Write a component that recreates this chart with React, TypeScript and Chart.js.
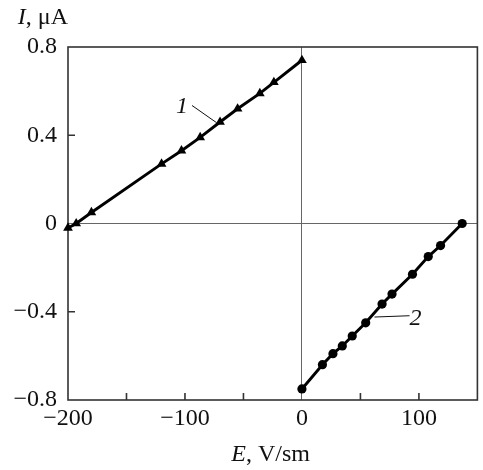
import React, { useEffect, useRef } from 'react';
import { Chart, registerables } from 'chart.js';
Chart.register(...registerables);

// Curve 1 (triangles)
const curve1E = [-200, -193, -180, -120, -103, -87, -70, -55, -36, -24, 0];
const curve1I = [-0.02, 0.0, 0.05, 0.27, 0.33, 0.39, 0.46, 0.52, 0.59, 0.64, 0.74];
// Curve 2 (circles)
const curve2E = [0, 17.5, 26.5, 34.5, 43, 54.5, 68.5, 77, 94.5, 108, 118.5, 137];
const curve2I = [-0.75, -0.64, -0.59, -0.555, -0.51, -0.45, -0.365, -0.32, -0.23, -0.15, -0.1, 0.0];

const xLabelTicks = [-200, -100, 0, 100];
const xMarkTicks = [-150, -100, -50, 50, 100];
const yLabelTicks = [-0.8, -0.4, 0, 0.4, 0.8];
const yMarkTicks = [-0.4, 0.4];

// Curve labels: [text, textE, textI, leaderFromE, leaderFromI, leaderToE, leaderToI]
const curveLabel1 = ['1', -102.6, 0.528, -94, 0.535, -73, 0.457];
const curveLabel2 = ['2', 97, -0.43, 92, -0.418, 62, -0.424];

const FONT = "'Liberation Serif', 'Times New Roman', serif";
const fmt = (v: number, d: number) => (v === 0 ? '0' : v.toFixed(d).replace('-', '\u2212'));

const decor = {
  id: 'decor',
  beforeDatasetsDraw(chart: any) {
    const { ctx, chartArea: a, scales } = chart;
    const x = scales.x, y = scales.y;
    ctx.save();
    ctx.strokeStyle = '#333';
    ctx.lineWidth = 1.6;
    ctx.strokeRect(a.left, a.top, a.right - a.left, a.bottom - a.top);
    ctx.beginPath();
    xMarkTicks.forEach((v) => {
      const px = x.getPixelForValue(v);
      ctx.moveTo(px, a.bottom);
      ctx.lineTo(px, a.bottom - 7);
    });
    yMarkTicks.forEach((v) => {
      const py = y.getPixelForValue(v);
      ctx.moveTo(a.left, py);
      ctx.lineTo(a.left + 7, py);
    });
    ctx.stroke();
    // leader lines
    ctx.strokeStyle = '#111';
    ctx.lineWidth = 1;
    [curveLabel1, curveLabel2].forEach((l: any[]) => {
      ctx.beginPath();
      ctx.moveTo(x.getPixelForValue(l[3]), y.getPixelForValue(l[4]));
      ctx.lineTo(x.getPixelForValue(l[5]), y.getPixelForValue(l[6]));
      ctx.stroke();
    });
    ctx.restore();
  },
  afterDraw(chart: any) {
    const { ctx, chartArea: a, scales } = chart;
    const x = scales.x, y = scales.y;
    ctx.save();
    ctx.fillStyle = '#111';
    ctx.textBaseline = 'alphabetic';
    // Y title: "I, μA"
    const italic = `italic 24px ${FONT}`;
    const normal = `24px ${FONT}`;
    ctx.font = normal;
    const yRest = ', \u03bcA';
    const wRest = ctx.measureText(yRest).width;
    ctx.font = italic;
    const wI = ctx.measureText('I').width;
    const yStart = a.left - wRest - wI;
    ctx.fillText('I', yStart, 24);
    ctx.font = normal;
    ctx.fillText(yRest, yStart + wI, 24);
    // X title: "E, V/sm"
    const xRest = ', V/sm';
    ctx.font = normal;
    const wxRest = ctx.measureText(xRest).width;
    ctx.font = italic;
    const wE = ctx.measureText('E').width;
    const cx = (a.left + a.right) / 2 - 2;
    const xStart = cx - (wE + wxRest) / 2;
    ctx.fillText('E', xStart, 461);
    ctx.font = normal;
    ctx.fillText(xRest, xStart + wE, 461);
    // curve labels
    ctx.font = italic;
    ctx.textAlign = 'center';
    ctx.textBaseline = 'middle';
    [curveLabel1, curveLabel2].forEach((l: any[]) => {
      ctx.fillText(l[0], x.getPixelForValue(l[1]), y.getPixelForValue(l[2]));
    });
    ctx.restore();
  },
};

export default function App() {
  const ref = useRef<HTMLCanvasElement>(null);
  useEffect(() => {
    const canvas = ref.current!;
    const chart = new Chart(canvas, {
      type: 'scatter',
      data: {
        datasets: [
          {
            data: curve1E.map((e, i) => ({ x: e, y: curve1I[i] })),
            showLine: true,
            borderColor: '#000',
            borderWidth: 2.9,
            pointStyle: 'triangle',
            pointRadius: 5.6,
            pointBackgroundColor: '#000',
            pointBorderColor: '#000',
            pointBorderWidth: 0,
            clip: false as any,
          },
          {
            data: curve2E.map((e, i) => ({ x: e, y: curve2I[i] })),
            showLine: true,
            borderColor: '#000',
            borderWidth: 2.9,
            pointStyle: 'circle',
            pointRadius: 4.6,
            pointBackgroundColor: '#000',
            pointBorderColor: '#000',
            pointBorderWidth: 0,
            clip: false as any,
          },
        ],
      },
      options: {
        animation: false,
        responsive: false,
        layout: { padding: { top: 47, right: 1, left: 0, bottom: 0 } },
        plugins: { legend: { display: false }, tooltip: { enabled: false } },
        scales: {
          x: {
            type: 'linear',
            min: -200,
            max: 150,
            afterBuildTicks: (s: any) => {
              s.ticks = xLabelTicks.map((v) => ({ value: v }));
            },
            afterFit: (s: any) => {
              s.height = 70;
            },
            border: { display: false },
            grid: {
              drawTicks: false,
              lineWidth: 1,
              color: (c: any) => (c.tick && c.tick.value === 0 ? '#666' : 'rgba(0,0,0,0)'),
            },
            ticks: {
              padding: 4,
              maxRotation: 0,
              autoSkip: false,
              color: '#111',
              font: { family: FONT, size: 24 },
              callback: (v: any) => fmt(Number(v), 0),
            },
          },
          y: {
            type: 'linear',
            min: -0.8,
            max: 0.8,
            afterBuildTicks: (s: any) => {
              s.ticks = yLabelTicks.map((v) => ({ value: v }));
            },
            afterFit: (s: any) => {
              s.width = 68;
            },
            border: { display: false },
            grid: {
              drawTicks: false,
              lineWidth: 1,
              color: (c: any) => (c.tick && c.tick.value === 0 ? '#666' : 'rgba(0,0,0,0)'),
            },
            ticks: {
              padding: 11,
              autoSkip: false,
              color: '#111',
              font: { family: FONT, size: 24 },
              callback: (v: any) => fmt(Number(v), 1),
            },
          },
        },
      },
      plugins: [decor],
    });
    return () => chart.destroy();
  }, []);
  return (
    <div style={{ position: 'absolute', left: 0, top: 0, width: 483, height: 470, background: '#fff' }}>
      <canvas ref={ref} width={483} height={470} style={{ display: 'block' }} />
    </div>
  );
}
